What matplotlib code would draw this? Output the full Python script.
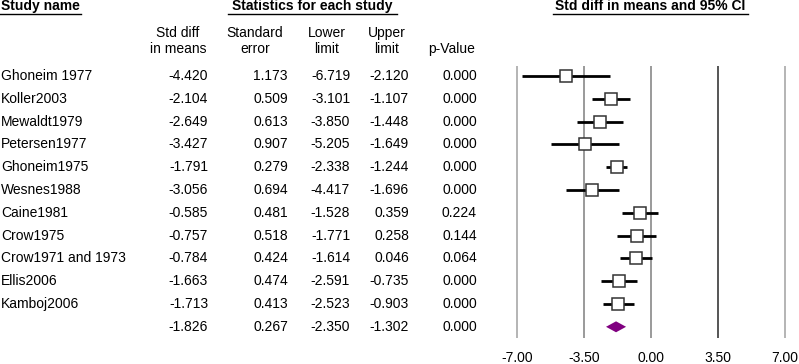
import matplotlib
matplotlib.use("Agg")
import matplotlib.pyplot as plt
from matplotlib.lines import Line2D

plt.rcParams['font.family'] = ['Liberation Sans', 'DejaVu Sans']

# ---------------- DATA ---------------- #
studies = ["Ghoneim 1977", "Koller2003", "Mewaldt1979", "Petersen1977", "Ghoneim1975",
           "Wesnes1988", "Caine1981", "Crow1975", "Crow1971 and 1973", "Ellis2006",
           "Kamboj2006"]
smd = [-4.420, -2.104, -2.649, -3.427, -1.791, -3.056, -0.585, -0.757, -0.784, -1.663, -1.713]
se = [1.173, 0.509, 0.613, 0.907, 0.279, 0.694, 0.481, 0.518, 0.424, 0.474, 0.413]
lower = [-6.719, -3.101, -3.850, -5.205, -2.338, -4.417, -1.528, -1.771, -1.614, -2.591, -2.523]
upper = [-2.120, -1.107, -1.448, -1.649, -1.244, -1.696, 0.359, 0.258, 0.046, -0.735, -0.903]
pval = [0.000, 0.000, 0.000, 0.000, 0.000, 0.000, 0.224, 0.144, 0.064, 0.000, 0.000]

summary = {"smd": -1.826, "se": 0.267, "lower": -2.350, "upper": -1.302, "p": 0.000}

xticks = [-7.0, -3.5, 0.0, 3.5, 7.0]
grid_colors = ["#b4b4b4", "#9a9a9a", "#9a9a9a", "#555555", "#b4b4b4"]

# ---------------- LAYOUT ---------------- #
W, H = 799, 364
fig = plt.figure(figsize=(W / 100, H / 100), dpi=100)
FS = 10


def px(x, y):
    return x / W, 1 - y / H


def row_y(i):
    return 76 + 22.8 * i


def hline(x0, x1, y):
    (a, b), (c, d) = px(x0, y), px(x1, y)
    fig.add_artist(Line2D([a, c], [b, d], color="black", lw=1.0))


# headers
fig.text(*px(1, 6), "Study name", fontsize=FS, fontweight="bold", va="center", ha="left")
hline(0, 81, 13.5)
fig.text(*px(312, 6), "Statistics for each study", fontsize=FS, fontweight="bold",
         va="center", ha="center")
hline(228, 397, 13.5)
fig.text(*px(650, 6), "Std diff in means and 95% CI", fontsize=FS, fontweight="bold",
         va="center", ha="center")
hline(553, 748, 13.5)

col_heads = [("Std diff", "in means", 178), ("Standard", "error", 255),
             ("Lower", "limit", 327), ("Upper", "limit", 387), ("", "p-Value", 452)]
for top, bottom, cx in col_heads:
    if top:
        fig.text(*px(cx, 33), top, fontsize=FS, va="center", ha="center")
    fig.text(*px(cx, 49), bottom, fontsize=FS, va="center", ha="center")

# table rows
col_right = [208, 288, 350, 409, 477]
for i, name in enumerate(studies):
    y = row_y(i)
    fig.text(*px(1, y), name, fontsize=FS, va="center", ha="left")
    vals = [smd[i], se[i], lower[i], upper[i], pval[i]]
    for v, xr in zip(vals, col_right):
        fig.text(*px(xr, y), f"{v:.3f}", fontsize=FS, va="center", ha="right")

ys = row_y(len(studies))
svals = [summary["smd"], summary["se"], summary["lower"], summary["upper"], summary["p"]]
for v, xr in zip(svals, col_right):
    fig.text(*px(xr, ys), f"{v:.3f}", fontsize=FS, va="center", ha="right")

# ---------------- FOREST PLOT ---------------- #
upp = 14 / 268  # data units per pixel
ax = fig.add_axes([512 / W, (H - 338) / H, 278 / W, 272 / H])
ax.set_xlim(-7 - 5 * upp, 7 + 5 * upp)
ax.set_ylim((338 - 76) / 22.8, (66 - 76) / 22.8)
for s in ax.spines.values():
    s.set_visible(False)
ax.set_yticks([])
ax.set_xticks(xticks)
ax.set_xticklabels([f"{t:.2f}" for t in xticks], fontsize=FS)
ax.tick_params(axis="x", length=0, pad=9)

for t, c in zip(xticks, grid_colors):
    ax.axvline(t, color=c, lw=1.4, zorder=1)

for i in range(len(studies)):
    ax.plot([lower[i], upper[i]], [i, i], color="black", lw=2.0, zorder=2,
            solid_capstyle="butt")
    ax.plot(smd[i], i, marker="s", markersize=8, markerfacecolor="white",
            markeredgecolor="#333333", markeredgewidth=1.1, zorder=3)

k = len(studies)
dh = 0.24
ax.fill([summary["lower"], summary["smd"], summary["upper"], summary["smd"]],
        [k, k - dh, k, k + dh], color="#800080", zorder=3, lw=0)

fig.savefig("out.png", dpi=100)
